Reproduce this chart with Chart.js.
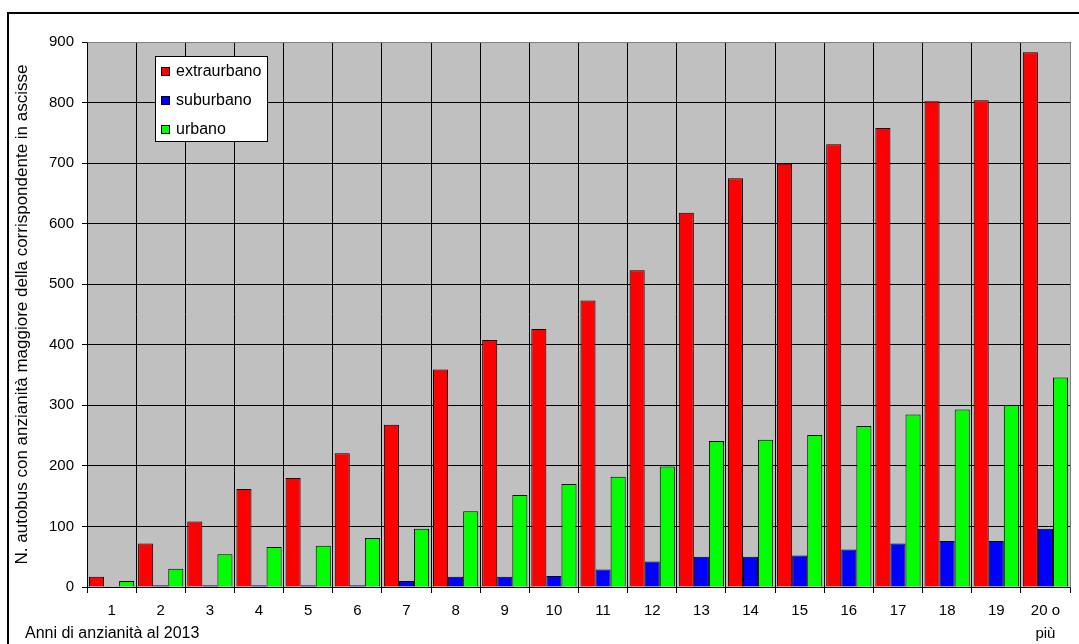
<!DOCTYPE html>
<html>
<head>
<meta charset="utf-8">
<script src="https://cdn.jsdelivr.net/npm/chart.js@4/dist/chart.umd.min.js"></script>
<style>
  body { margin: 0; background: #fff; }
  #wrap { position: relative; width: 1079px; height: 644px; overflow: hidden; }
  #frame { position: absolute; left: 7px; top: 12px; width: 1200px; height: 800px; border: 2px solid #000; }
  #chart { position: absolute; left: 0; top: 0; }
  #xtitle { position: absolute; left: 25px; top: 624px; font: 16px "Liberation Sans", Arial, sans-serif; color: #000; }
</style>
</head>
<body>
<div id="wrap">
  <div id="frame"></div>
  <canvas id="chart" width="1079" height="644"></canvas>
  <div id="xtitle">Anni di anzianità al 2013</div>
</div>
<script>
const categories = ['1', '2', '3', '4', '5', '6', '7', '8', '9', '10',
  '11', '12', '13', '14', '15', '16', '17', '18', '19', ['20 o', 'più']];
const extraurbano = [17, 72, 108, 162, 180, 221, 268, 359, 408, 426, 473, 523, 618, 675, 699, 731, 758, 802, 804, 883];
const suburbano = [0, 3, 3, 3, 3, 3, 10, 17, 17, 18, 29, 42, 50, 50, 52, 62, 72, 76, 76, 96];
const urbano = [10, 30, 54, 66, 68, 81, 96, 125, 152, 170, 182, 199, 241, 243, 251, 266, 285, 293, 300, 346];
const seriesNames = ['extraurbano', 'suburbano', 'urbano'];
const seriesColors = ['#ff0000', '#0000ff', '#00ff00'];
const yTitle = 'N. autobus con anzianità maggiore della corrispondente in ascisse';

const FONT = '"Liberation Sans", Arial, sans-serif';

// grey plot area + grey top/right edge
const plotBg = {
    id: 'plotBg',
    beforeDraw(chart) {
        const { ctx, chartArea: a } = chart;
        ctx.save();
        ctx.fillStyle = '#c0c0c0';
        ctx.fillRect(a.left, a.top, a.right - a.left, a.bottom - a.top);
        ctx.restore();
    },
    afterDatasetsDraw(chart) {
        const { ctx, chartArea: a } = chart;
        ctx.save();
        ctx.strokeStyle = '#808080';
        ctx.lineWidth = 1;
        ctx.beginPath();
        ctx.moveTo(Math.round(a.left) + 0.5, Math.round(a.top) + 0.5);
        ctx.lineTo(Math.round(a.right) + 0.5, Math.round(a.top) + 0.5);
        ctx.lineTo(Math.round(a.right) + 0.5, Math.round(a.bottom) + 0.5);
        ctx.stroke();
        ctx.restore();
    }
};

// legend box inside the plot
const boxLegend = {
    id: 'boxLegend',
    afterDraw(chart) {
        const { ctx } = chart;
        const x = 155, y = 56, w = 112, h = 85;
        const rows = [71, 100, 128.5];
        ctx.save();
        ctx.fillStyle = '#fff';
        ctx.fillRect(x, y, w, h);
        ctx.strokeStyle = '#000';
        ctx.lineWidth = 1;
        ctx.strokeRect(x + 0.5, y + 0.5, w, h);
        ctx.font = '16px ' + FONT;
        ctx.textBaseline = 'middle';
        chart.data.datasets.forEach((ds, i) => {
            const cy = Math.round(rows[i]);
            ctx.fillStyle = ds.backgroundColor;
            ctx.fillRect(161, cy - 4, 9, 9);
            ctx.strokeRect(161.5, cy - 3.5, 8, 8);
            ctx.fillStyle = '#000';
            ctx.fillText(ds.label, 176, cy + 1);
        });
        ctx.restore();
    }
};

const datasets = [extraurbano, suburbano, urbano].map((data, i) => ({
    label: seriesNames[i],
    data: data,
    backgroundColor: seriesColors[i],
    borderColor: '#000',
    borderWidth: 1,
    categoryPercentage: 0.92,
    barPercentage: 1.0
}));

new Chart(document.getElementById('chart'), {
    type: 'bar',
    data: { labels: categories, datasets: datasets },
    plugins: [plotBg, boxLegend],
    options: {
        responsive: false,
        animation: false,
        layout: { padding: { top: 42, right: 9, left: 0, bottom: 0 } },
        plugins: {
            legend: { display: false },
            tooltip: { enabled: false }
        },
        scales: {
            x: {
                afterFit: (s) => { s.height = 57; },
                grid: { color: '#000', lineWidth: 1, offset: true, tickLength: 6, tickColor: '#000' },
                border: { color: '#000', width: 1 },
                ticks: {
                    autoSkip: false, maxRotation: 0, color: '#000', padding: 6,
                    font: { family: FONT, size: 15, lineHeight: 1.53 }
                }
            },
            y: {
                min: 0, max: 900,
                afterFit: (s) => { s.width = 87; },
                grid: { color: '#000', lineWidth: 1, tickLength: 5, tickColor: '#000' },
                border: { color: '#000', width: 1 },
                ticks: {
                    stepSize: 100, color: '#000', padding: 8,
                    font: { family: FONT, size: 15 }
                },
                title: {
                    display: true, text: yTitle, color: '#000',
                    padding: { top: 12, bottom: 0 },
                    font: { family: FONT, size: 17 }
                }
            }
        }
    }
});
</script>
</body>
</html>
